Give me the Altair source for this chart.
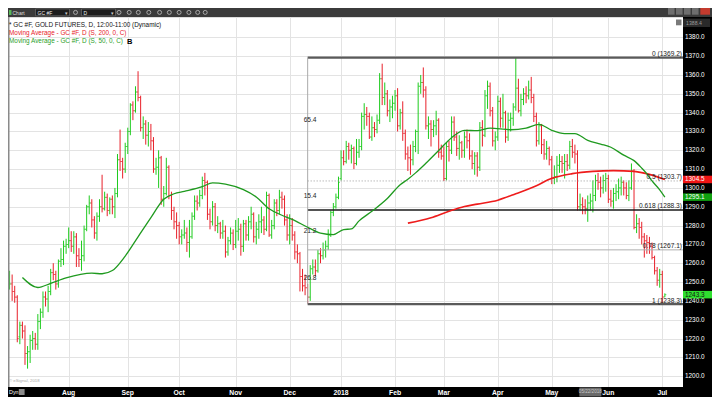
import altair as alt
import pandas as pd

# ---------------- data ----------------
opens = [1247,1249,1245,1242,1221,1227,1224,1212,1213,1219,
         1220,1217,1229,1234,1242,1241,1245,1255,1254,1249,
         1261,1262,1269,1270,1272,1269,1274,1264,1262,1264,
         1278,1290,1292,1283,1276,1285,1290,1289,1295,1288,
         1294,1290,1297,1315,1314,1310,1322,1330,1344,1341,
         1351,1348,1332,1334,1328,1330,1325,1310,1311,1316,
         1294,1297,1311,1296,1288,1282,1280,1274,1275,1276,
         1271,1274,1285,1293,1292,1296,1304,1303,1286,1282,
         1290,1280,1281,1276,1277,1266,1272,1276,1270,1277,
         1278,1269,1281,1275,1282,1286,1274,1278,1282,1283,
         1278,1296,1275,1280,1292,1288,1295,1294,1283,1275,
         1280,1275,1266,1265,1253,1248,1247,1242,1257,1258,
         1256,1265,1264,1267,1269,1275,1287,1290,1295,1305,
         1316,1314,1322,1320,1321,1313,1319,1322,1338,1339,
         1338,1327,1332,1331,1336,1358,1348,1350,1341,1343,
         1345,1349,1333,1340,1329,1318,1316,1315,1322,1330,
         1354,1356,1352,1333,1334,1331,1333,1336,1319,1317,
         1305,1322,1320,1335,1327,1321,1324,1320,1327,1325,
         1317,1313,1317,1311,1332,1328,1349,1354,1341,1325,
         1327,1346,1337,1340,1327,1336,1337,1343,1353,1341,
         1347,1350,1349,1352,1348,1338,1325,1333,1323,1318,
         1321,1315,1305,1306,1312,1314,1313,1314,1312,1322,
         1319,1318,1290,1291,1290,1289,1292,1293,1296,1304,
         1303,1300,1304,1305,1294,1293,1297,1298,1300,1303,
         1300,1296,1300,1309,1279,1281,1279,1274,1272,1271,
         1269,1263,1256,1251,1254,1242]
highs = [1256,1254,1248,1243,1229,1229,1227,1216,1222,1224,
         1223,1233,1236,1245,1245,1248,1257,1260,1256,1262,
         1268,1272,1273,1279,1277,1277,1276,1268,1272,1280,
         1291,1296,1294,1285,1287,1294,1307,1298,1297,1295,
         1296,1300,1318,1331,1316,1324,1332,1345,1346,1354,
         1362,1349,1338,1336,1335,1334,1327,1316,1320,1317,
         1301,1316,1312,1298,1290,1287,1282,1278,1283,1279,
         1283,1287,1296,1296,1299,1306,1308,1304,1289,1293,
         1292,1285,1282,1283,1280,1274,1279,1278,1283,1284,
         1281,1283,1283,1285,1290,1287,1282,1286,1290,1285,
         1298,1297,1283,1294,1294,1299,1298,1296,1286,1286,
         1284,1277,1270,1266,1257,1254,1249,1259,1262,1262,
         1267,1268,1271,1272,1278,1288,1292,1297,1306,1320,
         1320,1325,1324,1323,1322,1326,1326,1340,1345,1343,
         1340,1338,1335,1339,1361,1366,1356,1352,1347,1349,
         1352,1353,1342,1346,1331,1322,1323,1325,1331,1356,
         1360,1364,1354,1338,1336,1336,1341,1337,1323,1322,
         1324,1325,1338,1338,1330,1328,1325,1330,1331,1329,
         1320,1319,1319,1335,1336,1352,1357,1356,1343,1330,
         1349,1348,1350,1341,1340,1340,1345,1369.2,1358,1350,
         1353,1354,1357,1359,1350,1340,1335,1334,1326,1325,
         1322,1317,1312,1317,1318,1317,1318,1318,1325,1326,
         1323,1320,1297,1295,1294,1296,1297,1304,1307,1308,
         1306,1307,1308,1307,1299,1300,1302,1305,1306,1304,
         1303,1304,1313,1310,1286,1284,1282,1276,1275,1274,
         1271,1264,1258,1257,1256,1244]
lows = [1246,1240,1239,1218,1217,1220,1206,1204,1207,1214,
        1214,1214,1225,1231,1237,1234,1243,1251,1246,1247,
        1258,1259,1265,1268,1266,1265,1258,1258,1256,1261,
        1277,1286,1279,1273,1272,1282,1287,1288,1285,1286,
        1286,1284,1295,1309,1305,1308,1318,1328,1336,1340,
        1346,1330,1326,1323,1322,1320,1308,1307,1300,1291,
        1290,1296,1294,1283,1278,1273,1270,1270,1273,1266,
        1263,1273,1283,1288,1290,1294,1296,1283,1278,1280,
        1277,1276,1273,1273,1263,1264,1270,1267,1268,1272,
        1264,1266,1272,1272,1278,1271,1270,1273,1276,1275,
        1277,1274,1273,1278,1285,1286,1289,1280,1272,1270,
        1272,1262,1260,1245,1245,1243,1238.3,1240,1254,1253,
        1255,1260,1262,1263,1267,1274,1285,1289,1294,1304,
        1312,1313,1315,1313,1310,1312,1316,1320,1331,1333,
        1326,1325,1327,1329,1334,1344,1344,1338,1335,1337,
        1341,1330,1331,1325,1315,1309,1307,1312,1319,1318,
        1350,1348,1331,1326,1322,1327,1328,1316,1315,1303.7,
        1304,1314,1318,1325,1317,1315,1316,1316,1321,1315,
        1310,1307,1306,1309,1322,1327,1342,1338,1322,1320,
        1325,1332,1332,1324,1325,1330,1333,1341,1340,1338,
        1344,1345,1347,1345,1335,1322,1323,1318,1315,1315,
        1312,1302,1302,1303,1308,1308,1305,1309,1310,1316,
        1313,1288,1288,1286,1286,1282,1288,1287,1293,1299,
        1295,1297,1298,1292,1290,1289,1293,1294,1296,1296,
        1294,1293,1299,1278,1276,1273,1270,1263,1265,1265,
        1262,1254,1248,1247,1238.5,1242]
closes = [1249,1245,1242,1220,1227,1224,1212,1213,1219,1220,
          1217,1229,1234,1242,1241,1245,1255,1254,1249,1261,
          1262,1269,1270,1272,1269,1274,1264,1262,1264,1278,
          1290,1292,1283,1276,1285,1290,1289,1295,1288,1294,
          1290,1297,1315,1314,1310,1322,1330,1344,1341,1351,
          1348,1332,1334,1328,1330,1325,1310,1311,1316,1294,
          1297,1311,1296,1288,1282,1280,1274,1275,1276,1271,
          1274,1285,1293,1292,1296,1304,1303,1286,1282,1290,
          1280,1281,1276,1277,1266,1272,1276,1270,1277,1278,
          1269,1281,1275,1282,1286,1274,1278,1282,1283,1278,
          1296,1275,1280,1292,1288,1295,1294,1283,1275,1280,
          1275,1266,1265,1253,1248,1247,1242,1257,1258,1256,
          1265,1264,1267,1269,1275,1287,1290,1295,1303,1316,
          1314,1322,1320,1321,1313,1319,1322,1338,1339,1338,
          1327,1332,1331,1336,1358,1348,1350,1341,1343,1345,
          1349,1333,1340,1329,1318,1316,1315,1322,1330,1354,
          1356,1352,1333,1334,1331,1333,1336,1319,1317,1305,
          1322,1320,1335,1327,1321,1324,1320,1327,1325,1317,
          1313,1317,1311,1332,1328,1349,1354,1341,1325,1327,
          1346,1337,1340,1327,1336,1337,1343,1353,1341,1347,
          1350,1349,1352,1348,1338,1325,1333,1323,1318,1321,
          1315,1305,1306,1312,1314,1313,1314,1312,1322,1319,
          1318,1290,1291,1290,1289,1292,1293,1296,1304,1303,
          1300,1304,1305,1294,1293,1297,1298,1300,1303,1300,
          1296,1300,1309,1279,1281,1279,1274,1272,1271,1269,
          1263,1256,1251,1254,1242,1243.3]

month_labels = ["Aug", "Sep", "Oct", "Nov", "Dec", "2018", "Feb", "Mar", "Apr", "May", "Jun", "Jul"]
month_start_idx = [23, 46, 66, 88, 109, 129, 150, 169, 190, 211, 233, 254]

price_ticks = [1200, 1210, 1220, 1230, 1240, 1250, 1260, 1270, 1280, 1290,
               1300, 1310, 1320, 1330, 1340, 1350, 1360, 1370, 1380]

ma50_idx = [5, 11, 16, 22, 32, 36, 40, 45, 50, 55, 60, 64, 68, 75, 79, 84, 91, 96, 101, 106,
            110, 116, 121, 126, 130, 133, 136, 141, 147, 152, 155, 158, 162, 167, 172, 177, 182,
            187, 195, 201, 206, 211, 216, 220, 225, 230, 234, 239, 243, 246, 248, 250, 253, 255]
ma50_val = [1252.4, 1247.1, 1249.3, 1252.2, 1254.7, 1254.4, 1256.1, 1263.8, 1274.0, 1284.2,
            1294.0, 1296.9, 1298.2, 1300.7, 1302.7, 1302.0, 1299.1, 1295.2, 1288.9, 1285.5,
            1283.3, 1279.1, 1276.0, 1275.2, 1277.9, 1278.2, 1282.5, 1287.6, 1294.4, 1301.7,
            1304.6, 1308.0, 1313.1, 1319.9, 1326.7, 1330.6, 1330.4, 1331.8, 1330.9, 1331.8,
            1333.8, 1330.6, 1328.9, 1328.9, 1325.3, 1323.3, 1321.6, 1317.4, 1314.5, 1310.5,
            1307.5, 1303.7, 1299.0, 1295.1]
ma200_idx = [155, 164, 171, 177, 182, 190, 197, 205, 211, 219, 227, 235, 243, 250, 255]
ma200_val = [1281.3, 1284.2, 1287.6, 1290.1, 1291.4, 1293.5, 1296.9, 1301.2, 1305.1, 1307.6,
             1308.8, 1309.2, 1308.8, 1306.8, 1304.5]

fib_names = ["0", "0.5", "0.618", "0.78", "1"]
fib_levels = [1369.2, 1303.7, 1288.3, 1267.1, 1238.3]
fib_anchor_idx = 116

cycle_labels = ["65.4", "15.4", "21.2", "26.8"]
cycle_levels = [1336.0, 1295.6, 1277.2, 1252.4]

last_price = 1243.3
ma200_last = 1304.5
ma50_last = 1295.1
scale_top_text = "1388.4"
cursor_idx = 226
cursor_text = "05/22/2018"

legend_lines = ["* GC #F, GOLD FUTURES, D, 12:00-11:00 (Dynamic)",
                "Moving Average - GC #F, D (S, 200, 0, C)",
                "Moving Average - GC #F, D (S, 50, 0, C)"]

# ---------------- layout ----------------
W, H = 675, 370
RS = 29      # right strip width
BS = 10      # bottom strip height
TB = 9       # toolbar height
FONT = "Liberation Sans"
GREEN = "#1ecb1e"
RED = "#e8202a"

xs = alt.Scale(domain=[-0.61, 262.06], nice=False, zero=False)
ys = alt.Scale(domain=[1194.25, 1390.8], nice=False, zero=False)
ax_x = alt.Axis(values=month_start_idx, grid=True, gridColor="#e3e3e3", gridWidth=1,
                labels=False, ticks=False, domain=False, title=None)
ax_y = alt.Axis(values=price_ticks, grid=True, gridColor="#e3e3e3", gridWidth=1,
                labels=False, ticks=False, domain=False, title=None)


def X(field):
    return alt.X(field, type="quantitative", scale=xs, axis=ax_x)


def Y(field):
    return alt.Y(field, type="quantitative", scale=ys, axis=ax_y)


bars_df = pd.DataFrame({"i": list(range(len(closes))), "o": opens, "h": highs,
                        "l": lows, "c": closes})
bars_df["dir"] = ["up" if c >= o else "down" for o, c in zip(opens, closes)]
color = alt.Color("dir:N", scale=alt.Scale(domain=["up", "down"], range=[GREEN, RED]), legend=None)

bars = alt.Chart(bars_df).mark_rule(strokeWidth=1).encode(x=X("i"), y=Y("l"), y2="h:Q", color=color)
open_t = alt.Chart(bars_df).mark_tick(orient="horizontal", size=1.4, thickness=1, xOffset=-0.8).encode(
    x=X("i"), y=Y("o"), color=color)
close_t = alt.Chart(bars_df).mark_tick(orient="horizontal", size=1.4, thickness=1, xOffset=0.8).encode(
    x=X("i"), y=Y("c"), color=color)

ma50_df = pd.DataFrame({"i": ma50_idx, "v": ma50_val})
ma200_df = pd.DataFrame({"i": ma200_idx, "v": ma200_val})
ma50 = alt.Chart(ma50_df).mark_line(color="#1f9a1f", strokeWidth=1.3, interpolate="monotone").encode(
    x=X("i"), y=Y("v"))
ma200 = alt.Chart(ma200_df).mark_line(color="#ee1c1c", strokeWidth=1.6, interpolate="monotone").encode(
    x=X("i"), y=Y("v"))

fib_df = pd.DataFrame({"name": fib_names, "level": fib_levels, "i": [fib_anchor_idx] * len(fib_names)})


def fib_rule(names, **kw):
    return alt.Chart(fib_df).transform_filter(
        alt.FieldOneOfPredicate(field="name", oneOf=names)
    ).mark_rule(**kw).encode(x=X("i"), x2=alt.value(W), y=Y("level"))


fib_outer = fib_rule(["0", "1"], color="#5a5a5a", strokeWidth=2.2)
fib_618 = fib_rule(["0.618"], color="#1a1a1a", strokeWidth=1.6)
fib_78 = fib_rule(["0.78"], color="#b0b0b0", strokeWidth=1)
fib_50 = fib_rule(["0.5"], color="#9a9a9a", strokeWidth=1, strokeDash=[1, 2])

fib_v_df = pd.DataFrame({"i": [fib_anchor_idx], "top": [fib_levels[0]], "bot": [fib_levels[-1]]})
fib_vert = alt.Chart(fib_v_df).mark_rule(color="#aaaaaa", strokeWidth=1).encode(
    x=X("i"), y=Y("top"), y2="bot:Q")

fib_text = alt.Chart(fib_df).transform_calculate(
    lab="datum.name + ' (' + format(datum.level, '.1f') + ')'"
).mark_text(align="right", baseline="bottom", dy=-0.5, fontSize=6.6, font=FONT, color="#222").encode(
    x=alt.value(W - 1), y=Y("level"), text="lab:N")

cyc_df = pd.DataFrame({"t": cycle_labels, "v": cycle_levels, "i": [fib_anchor_idx] * len(cycle_labels)})
cyc_text = alt.Chart(cyc_df).mark_text(align="left", baseline="middle", dx=-4, fontSize=6.6,
                                        font=FONT, color="#222").encode(
    x=X("i"), y=Y("v"), text="t:N")

one = pd.DataFrame({"k": [0]})


def box(x1, x2, y1, y2, col, **kw):
    return alt.Chart(one).mark_rect(color=col, **kw).encode(
        x=alt.value(x1), x2=alt.value(x2), y=alt.value(y1), y2=alt.value(y2))


def label(x, y, text, size, col, align="left", weight="normal"):
    return alt.Chart(one).mark_text(text=text, fontSize=size, color=col, align=align,
                                    baseline="middle", fontWeight=weight, font=FONT).encode(
        x=alt.value(x), y=alt.value(y))


left_edge = alt.Chart(one).mark_rule(color="#8a8a8a", strokeWidth=1.5).encode(
    x=alt.value(0.75), y=alt.value(0), y2=alt.value(H))

# strips
right_strip = box(W, W + RS, 0, H + BS, "#000000")
bottom_strip = box(0, W + RS, H, H + BS, "#000000")
toolbar = box(0, W + RS, -TB, 0, "#3b3b3b")

tick_df = pd.DataFrame({"v": price_ticks, "t": [f"{p:.1f}" for p in price_ticks]})
y_labels = alt.Chart(tick_df).mark_text(align="left", baseline="middle", fontSize=6.4, font=FONT,
                                        color="#ffffff").encode(
    x=alt.value(W + 2), y=Y("v"), text="t:N")

month_df = pd.DataFrame({"i": month_start_idx, "t": month_labels})
x_labels = alt.Chart(month_df).mark_text(align="center", baseline="middle", fontSize=6.8, font=FONT,
                                         fontWeight="bold", color="#ffffff").encode(
    x=X("i"), y=alt.value(H + BS / 2 + 0.5), text="t:N")

# price boxes on right axis
val_df = pd.DataFrame({"v": [ma200_last, ma50_last, last_price],
                       "t": [f"{ma200_last:.1f}", f"{ma50_last:.1f}", f"{last_price:.1f}"],
                       "k": ["ma200", "ma50", "last"]})


def val_box(key, fill, txt):
    d = alt.Chart(val_df).transform_filter(alt.FieldEqualPredicate(field="k", equal=key))
    r = d.mark_rule(color=fill, strokeWidth=7.5).encode(
        x=alt.value(W), x2=alt.value(W + RS), y=Y("v"))
    t = d.mark_text(align="left", baseline="middle", fontSize=6.4, font=FONT, color=txt).encode(
        x=alt.value(W + 2), y=Y("v"), text="t:N")
    return r + t


boxes = val_box("ma200", "#f01515", "#ffffff") + val_box("ma50", "#10a010", "#ffffff") + \
    val_box("last", "#2fe02f", "#111111")

# cursor date box on the time axis
cur_df = pd.DataFrame({"i": [cursor_idx], "t": [cursor_text]})
cur_box = alt.Chart(cur_df).mark_rule(color="#6a6a6a", strokeWidth=9, xOffset=-11, x2Offset=11).encode(
    x=X("i"), x2="i:Q", y=alt.value(H + BS / 2))
cur_txt = alt.Chart(cur_df).mark_text(align="center", baseline="middle", fontSize=4.6, font=FONT,
                                      color="#c8c8c8").encode(
    x=X("i"), y=alt.value(H + BS / 2), text="t:N")

# legend text
legend = (label(1, 7.6, legend_lines[0], 6.4, "#111111")
          + label(1, 15.7, legend_lines[1], 6.4, "#e8202a")
          + label(1, 23.7, legend_lines[2], 6.4, "#2aa02a")
          + label(119, 25, "B", 7.5, "#000000", weight="bold"))

# toolbar chrome
tb = [toolbar,
      box(1, 3.5, -7, -2, "#58b858"),
      label(4.5, -4.5, "Chart", 5, "#dddddd"),
      box(27.5, 61.5, -8, -1.2, "#1c1c1c", stroke="#777777", strokeWidth=0.6),
      label(29.5, -4.5, "GC #F", 5, "#eeeeee"),
      label(57, -4.5, "▾", 5, "#cccccc"),
      box(73.5, 107.5, -8, -1.2, "#1c1c1c", stroke="#777777", strokeWidth=0.6),
      label(75.5, -4.5, "D", 5, "#eeeeee"),
      label(103, -4.5, "▾", 5, "#cccccc")]
for px in [67.5, 111, 121.2, 130.3, 140.8, 151.6, 161.3, 171.1, 180.9, 189.7, 197.2]:
    tb.append(alt.Chart(one).mark_point(shape="circle", size=16, filled=False, stroke="#e6e6e6",
                                        strokeWidth=0.9).encode(x=alt.value(px), y=alt.value(-4.6)))
for bx in [660, 668, 676, 684]:
    tb.append(box(bx, bx + 6.6, -TB, -2.3, "#6e6e6e"))
tb.append(box(692.3, 702, -TB, -2.3, "#c43b2e"))

# misc chrome
misc = [box(W, W + 27, 1.6, 10, "#2a2a2a"),
        label(W + 3, 5.8, scale_top_text, 5.2, "#9a9a9a"),
        box(W - 7, W - 1.5, 2.5, 8.3, "#7a7a7a"),
        label(1, H + BS / 2, "Dyn", 5.4, "#ffffff"),
        box(10.8, 16.6, H + 2, H + BS - 2, "#8a8a8a"),
        label(1, H - 6.3, "© eSignal, 2018", 4.3, "#a8a8a8")]

layers = [bars, open_t, close_t, left_edge,
          fib_outer, fib_618, fib_78, fib_50, fib_vert,
          ma200, ma50, fib_text, cyc_text,
          right_strip, bottom_strip, y_labels, x_labels, boxes, cur_box, cur_txt,
          legend] + tb + misc

chart = alt.layer(*layers).properties(
    width=W, height=H,
    autosize=alt.AutoSizeParams(type="none"),
    padding={"left": 0, "top": TB, "right": RS, "bottom": BS},
).configure_view(stroke=None).configure(background="#ffffff")

chart.save("out.html", embed_options={"renderer": "svg", "actions": False})
